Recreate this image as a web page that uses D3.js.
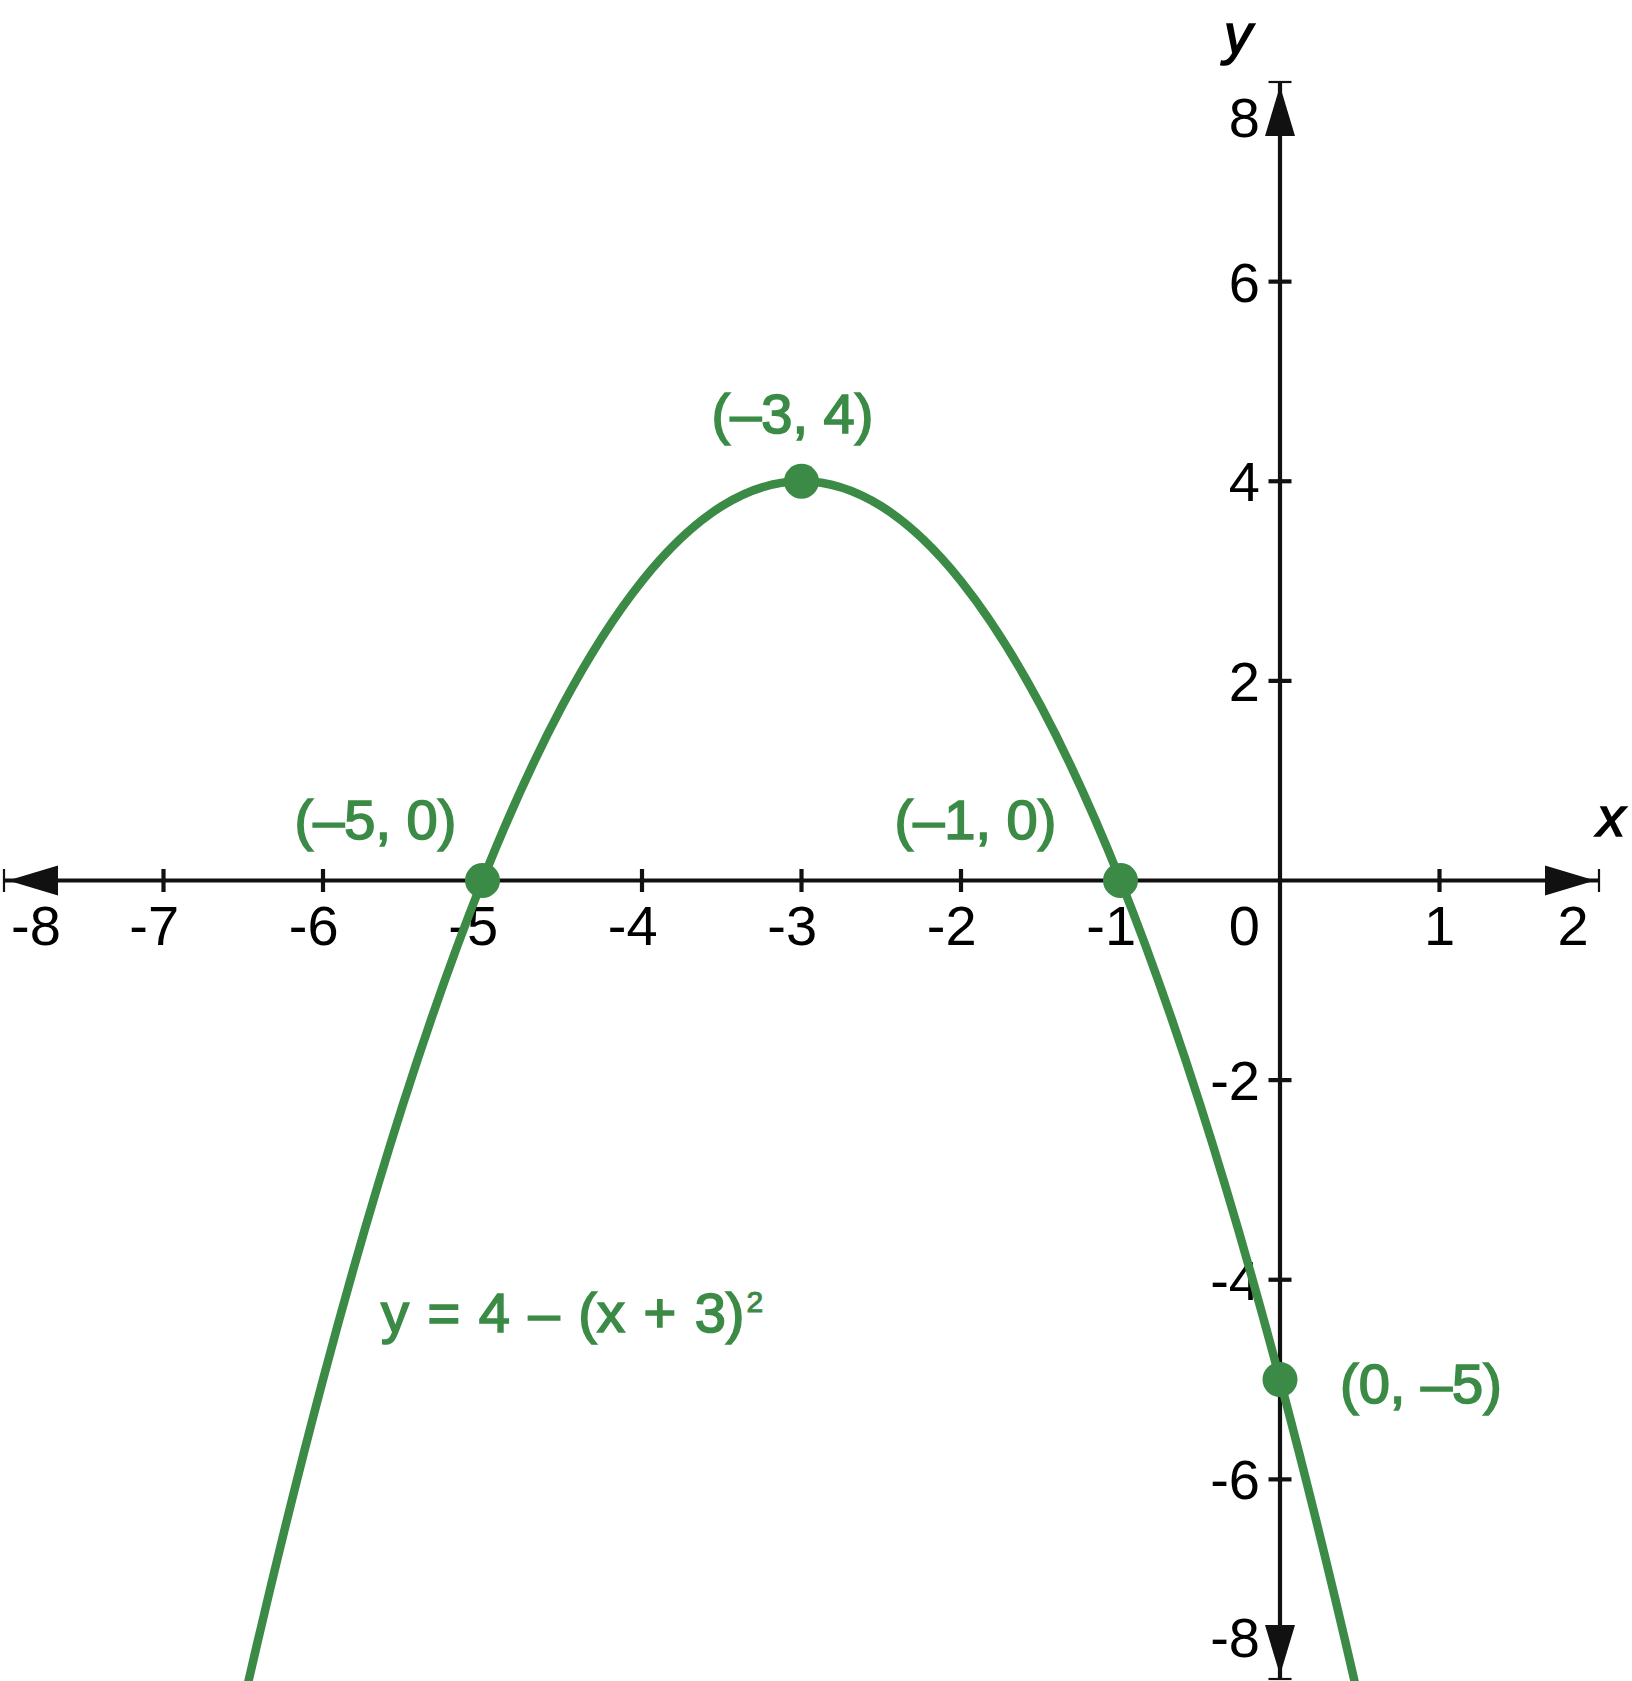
<!DOCTYPE html>
<html>
<head>
<meta charset="utf-8">
<script src="https://cdn.jsdelivr.net/npm/d3@7"></script>
<style>
html,body{margin:0;padding:0;background:#fff;}
svg{display:block;}
</style>
</head>
<body>
<script>
// ---- data ----
const xTicks = [-8, -7, -6, -5, -4, -3, -2, -1, 1, 2];
const yTicks = [8, 6, 4, 2, -2, -4, -6, -8];
const curveX = [-6.6, -6.5, -6, -5.5, -5, -4.5, -4, -3.5, -3, -2.5, -2, -1.5, -1, -0.5, 0, 0.5, 0.6];
const curveY = [-8.96, -8.25, -5, -2.25, 0, 1.75, 3, 3.75, 4, 3.75, 3, 1.75, 0, -2.25, -5, -8.25, -8.96];
const pointX = [-3, -5, -1, 0];
const pointY = [4, 0, 0, -5];
const pointLabels = ["(–3, 4)", "(–5, 0)", "(–1, 0)", "(0, –5)"];
const equationMain = "y = 4 – (x + 3)";
const equationSup = "2";

// ---- layout ----
const W = 1632, H = 1681;
const green = "#3b8b47";
const ink = "#111";
const x = d3.scaleLinear().domain([-8, 2]).range([4, 1599]);
const y = d3.scaleLinear().domain([-8, 8]).range([1679, 82]);

const svg = d3.select("body").append("svg").attr("width", W).attr("height", H);

const axisW = 4.2, tickHalf = 11.5;
// axes lines
svg.append("line").attr("x1", x(-8)).attr("x2", x(2)).attr("y1", y(0)).attr("y2", y(0))
  .attr("stroke", ink).attr("stroke-width", axisW);
svg.append("line").attr("x1", x(0)).attr("x2", x(0)).attr("y1", y(8)).attr("y2", y(-8))
  .attr("stroke", ink).attr("stroke-width", axisW);

// x ticks
xTicks.forEach(t => {
  const end = (t === -8 || t === 2);
  svg.append("line").attr("x1", x(t)).attr("x2", x(t))
    .attr("y1", y(0) - tickHalf).attr("y2", y(0) + tickHalf)
    .attr("stroke", ink).attr("stroke-width", end ? 2.2 : axisW);
});
// y ticks
yTicks.forEach(t => {
  const end = (t === 8 || t === -8);
  svg.append("line").attr("y1", y(t)).attr("y2", y(t))
    .attr("x1", x(0) - tickHalf).attr("x2", x(0) + tickHalf)
    .attr("stroke", ink).attr("stroke-width", end ? 2.2 : axisW);
});

// arrowheads
const aLen = 50, aHalf = 15, aGap = 4;
function tri(p) { return "M" + p.map(q => q.join(",")).join("L") + "Z"; }
const x0 = x(0), y0 = y(0);
svg.append("path").attr("d", tri([[x(-8) + aGap, y0], [x(-8) + aGap + aLen, y0 - aHalf], [x(-8) + aGap + aLen, y0 + aHalf]])).attr("fill", ink);
svg.append("path").attr("d", tri([[x(2) - aGap, y0], [x(2) - aGap - aLen, y0 - aHalf], [x(2) - aGap - aLen, y0 + aHalf]])).attr("fill", ink);
svg.append("path").attr("d", tri([[x0, y(8) + aGap], [x0 - aHalf, y(8) + aGap + aLen], [x0 + aHalf, y(8) + aGap + aLen]])).attr("fill", ink);
svg.append("path").attr("d", tri([[x0, y(-8) - aGap], [x0 - aHalf, y(-8) - aGap - aLen], [x0 + aHalf, y(-8) - aGap - aLen]])).attr("fill", ink);

// tick labels
const fs = 56;
const digitHalf = 0.556 * fs / 2;
const tickFont = "'Liberation Sans', Arial, sans-serif";
xTicks.forEach(t => {
  const lbl = String(t);
  const txt = svg.append("text").text(lbl)
    .attr("font-family", tickFont).attr("font-size", fs).attr("fill", "#000")
    .attr("y", 945);
  if (t === -8) {
    txt.attr("x", 11).attr("text-anchor", "start");
  } else if (t === 2) {
    txt.attr("x", x(t) - 26).attr("text-anchor", "middle");
  } else {
    txt.attr("x", x(t) + digitHalf).attr("text-anchor", "end");
  }
});
svg.append("text").text("0").attr("font-family", tickFont).attr("font-size", fs)
  .attr("x", 1260).attr("y", 945).attr("text-anchor", "end");
yTicks.forEach(t => {
  let base = y(t) + 20;
  if (t === 8) base = y(t) + 55;
  if (t === -8) base = y(t) - 22;
  svg.append("text").text(String(t))
    .attr("font-family", tickFont).attr("font-size", fs).attr("fill", "#000")
    .attr("x", 1260).attr("y", base).attr("text-anchor", "end");
});

// axis titles
svg.append("text").text("y").attr("font-family", tickFont).attr("font-style", "italic")
  .attr("font-size", 56).attr("x", 1224).attr("y", 53)
  .attr("stroke", "#000").attr("stroke-width", 1.6);
svg.append("text").text("x").attr("font-family", tickFont).attr("font-style", "italic")
  .attr("font-size", 56).attr("x", 1597).attr("y", 836)
  .attr("stroke", "#000").attr("stroke-width", 1.6);

// curve
const curveData = curveX.map((v, i) => [v, curveY[i]]);
svg.append("path").datum(curveData)
  .attr("d", d3.line().x(d => x(d[0])).y(d => y(d[1])).curve(d3.curveMonotoneX))
  .attr("fill", "none").attr("stroke", green).attr("stroke-width", 8.5);

// points
pointX.forEach((px, i) => {
  svg.append("circle").attr("cx", x(px)).attr("cy", y(pointY[i])).attr("r", 17.5).attr("fill", green);
});

// point labels
const labelFs = 56;
const labelPlace = [
  {dx: -9, dy: -48, anchor: "middle"},
  {dx: -107, dy: -42, anchor: "middle"},
  {dx: -145, dy: -42, anchor: "middle"},
  {dx: 60, dy: 23, anchor: "start"}
];
pointLabels.forEach((lbl, i) => {
  const p = labelPlace[i];
  svg.append("text").text(lbl)
    .attr("font-family", tickFont).attr("font-size", labelFs)
    .attr("fill", green).attr("stroke", green).attr("stroke-width", 1.7)
    .attr("x", x(pointX[i]) + p.dx).attr("y", y(pointY[i]) + p.dy)
    .attr("text-anchor", p.anchor);
});

// equation
const eq = svg.append("text").attr("font-family", tickFont).attr("font-size", labelFs)
  .attr("fill", green).attr("stroke", green).attr("stroke-width", 1.7)
  .attr("x", 381).attr("y", 1332);
eq.append("tspan").text(equationMain).attr("word-spacing", 3);
eq.append("tspan").text(equationSup).attr("font-size", 30).attr("stroke-width", 1).attr("dy", -20).attr("dx", 2);
</script>
</body>
</html>
